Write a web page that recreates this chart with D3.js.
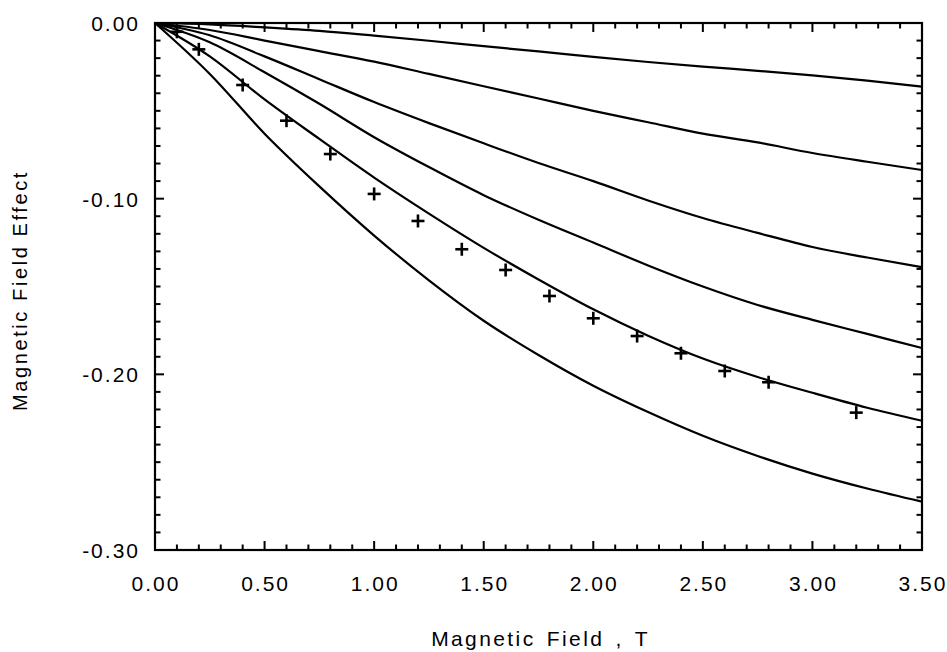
<!DOCTYPE html>
<html>
<head>
<meta charset="utf-8">
<script src="https://cdn.jsdelivr.net/npm/d3@7"></script>
<style>
  html, body { margin: 0; padding: 0; background: #fff; }
  svg { display: block; }
  text { font-family: "Liberation Sans", Arial, Helvetica, sans-serif; fill: #000; }
</style>
</head>
<body>
<svg id="chart" width="947" height="652"></svg>
<script>
// ---- data ----
const fieldGrid = [0, 0.25, 0.5, 0.75, 1.0, 1.25, 1.5, 1.75, 2.0, 2.25, 2.5, 2.75, 3.0, 3.25, 3.5];
const curve1 = [0, -0.0008, -0.0025, -0.0045, -0.0072, -0.0101, -0.0132, -0.0162, -0.0193, -0.0222, -0.0248, -0.0272, -0.0298, -0.0328, -0.0362];
const curve2 = [0, -0.004, -0.010, -0.016, -0.022, -0.029, -0.036, -0.043, -0.050, -0.0565, -0.063, -0.068, -0.074, -0.079, -0.0837];
const curve3 = [0, -0.007, -0.019, -0.032, -0.045, -0.057, -0.0685, -0.0797, -0.090, -0.101, -0.111, -0.1195, -0.1275, -0.1335, -0.139];
const curve4 = [0, -0.011, -0.028, -0.046, -0.065, -0.082, -0.098, -0.112, -0.125, -0.138, -0.150, -0.1605, -0.169, -0.177, -0.185];
const curve5 = [0, -0.019, -0.0435, -0.066, -0.088, -0.1085, -0.128, -0.146, -0.163, -0.178, -0.191, -0.2015, -0.2105, -0.219, -0.2264];
const curve6 = [0, -0.029, -0.063, -0.093, -0.121, -0.1465, -0.1695, -0.189, -0.2065, -0.2215, -0.235, -0.2465, -0.2565, -0.265, -0.2725];

const pointField = [0.1, 0.2, 0.4, 0.6, 0.8, 1.0, 1.2, 1.4, 1.6, 1.8, 2.0, 2.2, 2.4, 2.6, 2.8, 3.2];
const pointEffect = [-0.005, -0.015, -0.0353, -0.0556, -0.0746, -0.0973, -0.1127, -0.1288, -0.1406, -0.1554, -0.1681, -0.1782, -0.188, -0.1981, -0.2045, -0.2218];

const xTickValues = [0, 0.5, 1.0, 1.5, 2.0, 2.5, 3.0, 3.5];
const yTickValues = [0, -0.1, -0.2, -0.3];
const xTitle = "Magnetic Field , T";
const yTitle = "Magnetic Field Effect";

// ---- layout ----
const svg = d3.select("#chart");
const M = { left: 155, right: 922, top: 23, bottom: 550 };

const x = d3.scaleLinear().domain([0, 3.5]).range([M.left, M.right]);
const y = d3.scaleLinear().domain([0, -0.3]).range([M.top, M.bottom]);

// frame
svg.append("rect")
  .attr("x", M.left).attr("y", M.top)
  .attr("width", M.right - M.left).attr("height", M.bottom - M.top)
  .attr("fill", "none").attr("stroke", "#000").attr("stroke-width", 2.2);

// minor/major ticks (inward)
const xMinor = d3.range(0, 36).map(i => i / 10);
const yMinor = d3.range(0, 31).map(i => -i / 100);
const isMajorX = v => Math.abs(v * 2 - Math.round(v * 2)) < 1e-6;
const isMajorY = v => Math.abs(v * 10 - Math.round(v * 10)) < 1e-6;

const ticks = svg.append("g").attr("stroke", "#000").attr("stroke-width", 2);
xMinor.forEach(v => {
  const len = isMajorX(v) ? 9 : 5.5;
  ticks.append("line").attr("x1", x(v)).attr("x2", x(v)).attr("y1", M.bottom).attr("y2", M.bottom - len);
  ticks.append("line").attr("x1", x(v)).attr("x2", x(v)).attr("y1", M.top).attr("y2", M.top + len);
});
yMinor.forEach(v => {
  const len = isMajorY(v) ? 9 : 5.5;
  ticks.append("line").attr("x1", M.left).attr("x2", M.left + len).attr("y1", y(v)).attr("y2", y(v));
  ticks.append("line").attr("x1", M.right).attr("x2", M.right - len).attr("y1", y(v)).attr("y2", y(v));
});

// tick labels
const fmt = d3.format(".2f");
svg.append("g").selectAll("text").data(xTickValues).join("text")
  .attr("x", d => x(d) + 1).attr("y", 591)
  .attr("text-anchor", "middle")
  .attr("font-size", 21).attr("letter-spacing", 2)
  .text(d => fmt(d));

svg.append("g").selectAll("text").data(yTickValues).join("text")
  .attr("x", 140).attr("y", d => y(d) + 8)
  .attr("text-anchor", "end")
  .attr("font-size", 21).attr("letter-spacing", 2)
  .text(d => fmt(d).replace("−", "-"));

// axis titles
svg.append("text")
  .attr("x", (M.left + M.right) / 2 + 2).attr("y", 646)
  .attr("text-anchor", "middle")
  .attr("font-size", 21).attr("letter-spacing", 2.4)
  .attr("word-spacing", 3)
  .text(xTitle);

svg.append("text")
  .attr("transform", `translate(27, ${(M.top + M.bottom) / 2 + 4}) rotate(-90)`)
  .attr("text-anchor", "middle")
  .attr("font-size", 20).attr("letter-spacing", 2.6)
  .text(yTitle);

// curves
const series = [curve1, curve2, curve3, curve4, curve5, curve6];
const line = d3.line()
  .x(d => x(d[0])).y(d => y(d[1]))
  .curve(d3.curveMonotoneX);

svg.append("g").selectAll("path").data(series).join("path")
  .attr("d", s => line(fieldGrid.map((f, i) => [f, s[i]])))
  .attr("fill", "none").attr("stroke", "#000").attr("stroke-width", 2.2);

// data points (+ markers)
const pts = pointField.map((f, i) => [f, pointEffect[i]]);
const cross = svg.append("g").attr("stroke", "#000").attr("stroke-width", 2.6);
pts.forEach(p => {
  const cx = x(p[0]), cy = y(p[1]);
  cross.append("line").attr("x1", cx - 6.5).attr("x2", cx + 6.5).attr("y1", cy).attr("y2", cy);
  cross.append("line").attr("x1", cx).attr("x2", cx).attr("y1", cy - 6.5).attr("y2", cy + 6.5);
});
</script>
</body>
</html>
